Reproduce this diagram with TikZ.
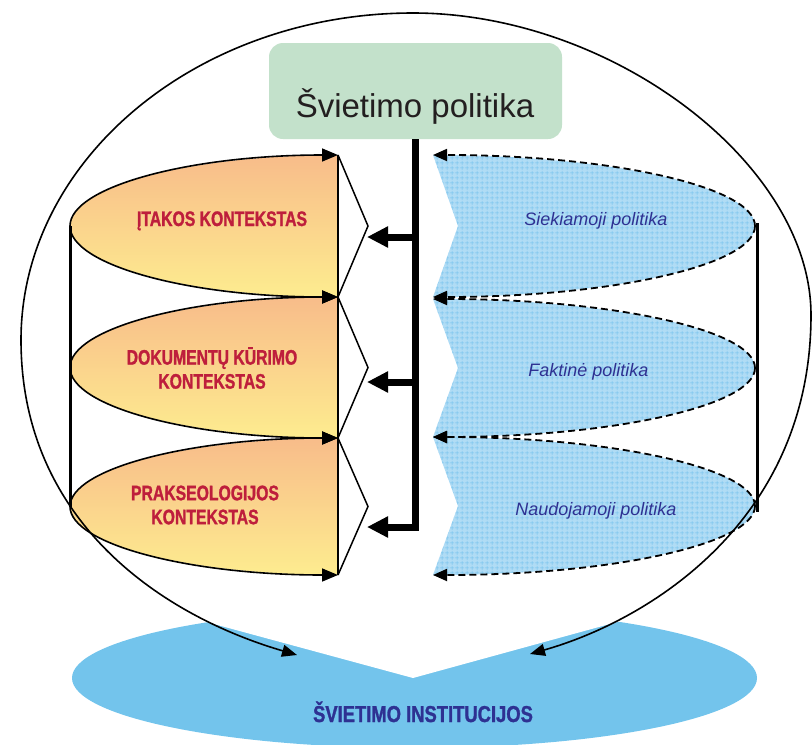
\documentclass[tikz,border=0pt]{standalone}
\usepackage{fontspec}
\setmainfont{Liberation Sans}
\newfontfamily\narrowfont[FakeStretch=0.75, BoldFeatures={FakeBold=1.2}]{Liberation Sans}
\newfontfamily\narrowfontw[FakeStretch=0.8, BoldFeatures={FakeBold=1.2}]{Liberation Sans}
\usetikzlibrary{arrows.meta,patterns.meta,shapes.geometric}

\definecolor{boxgreen}{RGB}{195,225,203}
\definecolor{titlegray}{RGB}{35,31,32}
\definecolor{ctxred}{RGB}{190,30,60}
\definecolor{polblue}{RGB}{46,49,146}
\definecolor{peach}{RGB}{248,188,138}
\definecolor{midyellow}{RGB}{252,224,141}
\definecolor{paleyellow}{RGB}{253,236,143}
\definecolor{skyfill}{RGB}{176,220,245}
\definecolor{skygrid}{RGB}{118,194,237}
\definecolor{instblue}{RGB}{115,196,236}

% fine square grid used inside the policy shapes
\tikzdeclarepattern{
  name=finegrid,
  type=uncolored,
  bounding box={(0pt,0pt) and (5pt,5pt)},
  tile size={(5pt,5pt)},
  code={\draw[line width=0.8pt] (0pt,2.5pt) -- (5pt,2.5pt) (2.5pt,0pt) -- (2.5pt,5pt);}
}

\tikzset{
  ctxarrow/.style={line width=1.6pt, -{Triangle[length=16pt,width=13pt]}},
  polarrow/.style={line width=1.8pt, dash pattern=on 7pt off 4pt, -{Triangle[length=14pt,width=12pt]}},
  trunk/.style={line width=7pt, -{Triangle[length=21pt,width=20pt]}},
  edgeline/.style={line width=1.5pt},
  sideline/.style={line width=3pt},
  loopline/.style={line width=1.6pt, {Triangle[length=15pt,width=12pt]}-{Triangle[length=15pt,width=12pt]}},
  ctxlabel/.style={text=ctxred, align=center, inner sep=0pt,
    font=\narrowfont\bfseries\fontsize{21}{24}\selectfont},
  pollabel/.style={text=polblue, anchor=base, inner sep=0pt,
    font=\itshape\fontsize{18}{22}\selectfont},
}

\begin{document}
\begin{tikzpicture}[x=1pt, y=-1pt, line join=miter]
\useasboundingbox (0,0) rectangle (812,745);

% ---------- education institutions (bottom) ----------
\node[ellipse, fill=instblue, draw=none, inner sep=0pt,
      minimum width=685pt, minimum height=140pt] (inst) at (414.5,678) {};
\fill[white] (140,604) -- (413,678) -- (690,602) -- (690,590) -- (140,590) -- cycle;
\node[text=polblue, anchor=base, inner sep=0pt,
      font=\narrowfontw\bfseries\fontsize{23}{26}\selectfont] (instlabel) at (423,722) {ŠVIETIMO INSTITUCIJOS};

% ---------- education policy box ----------
\node[fill=boxgreen, rounded corners=14pt, minimum width=293pt, minimum height=96pt] (box) at (415.5,91) {};
\node[anchor=base, inner sep=0pt, text=titlegray, font=\fontsize{33}{40}\selectfont] (title) at (415,117) {Švietimo politika};

% ---------- context shapes (left) ----------
\coordinate (l1) at (70,226);
\coordinate (l2) at (70,367.5);
\coordinate (l3) at (70,506.5);

\shade[top color=peach, middle color=midyellow, bottom color=paleyellow]
  (338,155) arc[start angle=270, end angle=90, x radius=268, y radius=71] -- cycle;
\shade[top color=peach, middle color=midyellow, bottom color=paleyellow]
  (338,297) arc[start angle=270, end angle=90, x radius=268, y radius=70.5] -- cycle;
\shade[top color=peach, middle color=midyellow, bottom color=paleyellow]
  (338,438) arc[start angle=270, end angle=90, x radius=268, y radius=68.5] -- cycle;

\draw[ctxarrow] (l1) arc[start angle=180, end angle=270, x radius=268, y radius=71];
\draw[ctxarrow] (l1) arc[start angle=180, end angle=90, x radius=268, y radius=71];
\draw[ctxarrow] (l2) arc[start angle=180, end angle=270, x radius=268, y radius=70.5];
\draw[ctxarrow] (l2) arc[start angle=180, end angle=90, x radius=268, y radius=70.5];
\draw[ctxarrow] (l3) arc[start angle=180, end angle=270, x radius=268, y radius=68.5];
\draw[ctxarrow] (l3) arc[start angle=180, end angle=90, x radius=268, y radius=68.5];

\draw[edgeline] (338,155) -- (338,575);
\draw[edgeline] (338,155) -- (368,226) -- (338,297) -- (368,367.5) -- (338,438) -- (368,506.5) -- (338,575);
\draw[sideline] (l1) -- (l3);

\node[ctxlabel, anchor=base] (ctx1) at (222,226) {ĮTAKOS KONTEKSTAS};
\node[ctxlabel] (ctx2) at (212,368) {DOKUMENTŲ KŪRIMO\\KONTEKSTAS};
\node[ctxlabel] (ctx3) at (205,505) {PRAKSEOLOGIJOS\\KONTEKSTAS};

% ---------- policy shapes (right) ----------
\coordinate (r1) at (755,226);
\coordinate (r2) at (755,368);
\coordinate (r3) at (755,506);

\foreach \cy/\ry in {226/71, 368/69, 506/69}{
  \fill[skyfill] (433,\cy-\ry) arc[start angle=270, end angle=450, x radius=322, y radius=\ry]
    -- (458,\cy) -- cycle;
  \fill[pattern=finegrid, pattern color=skygrid] (433,\cy-\ry) arc[start angle=270, end angle=450, x radius=322, y radius=\ry]
    -- (458,\cy) -- cycle;
}

\draw[polarrow] (r1) arc[start angle=0, end angle=-90, x radius=322, y radius=71];
\draw[polarrow] (r1) arc[start angle=0, end angle=90, x radius=322, y radius=71];
\draw[polarrow] (r2) arc[start angle=0, end angle=-90, x radius=322, y radius=69];
\draw[polarrow] (r2) arc[start angle=0, end angle=90, x radius=322, y radius=69];
\draw[polarrow] (r3) arc[start angle=0, end angle=-90, x radius=322, y radius=69];
\draw[polarrow] (r3) arc[start angle=0, end angle=90, x radius=322, y radius=69];

\draw[sideline] (757,223) -- (757,512);

\node[pollabel] (pol1) at (596,225) {Siekiamoji politika};
\node[pollabel] (pol2) at (588.5,376) {Faktinė politika};
\node[pollabel] (pol3) at (596,515) {Naudojamoji politika};

% ---------- trunk from the policy box to the contexts ----------
\coordinate (in1) at (367,237);
\coordinate (in2) at (367,382);
\coordinate (in3) at (367,527);
\draw[trunk] (box.south) |- (in3);
\draw[trunk] (box.south |- in1) -- (in1);
\draw[trunk] (box.south |- in2) -- (in2);

% ---------- enclosing loop down to the institutions ----------
\coordinate (la) at (297,655);
\coordinate (ra) at (530,654);
\draw[loopline] (la) .. controls (160,615) and (21,520) .. (21,340)
  .. controls (21,160) and (197,13) .. (413,13)
  .. controls (612,13) and (811,164) .. (811,315)
  .. controls (811,520) and (650,620) .. (ra);

\end{tikzpicture}
\end{document}
